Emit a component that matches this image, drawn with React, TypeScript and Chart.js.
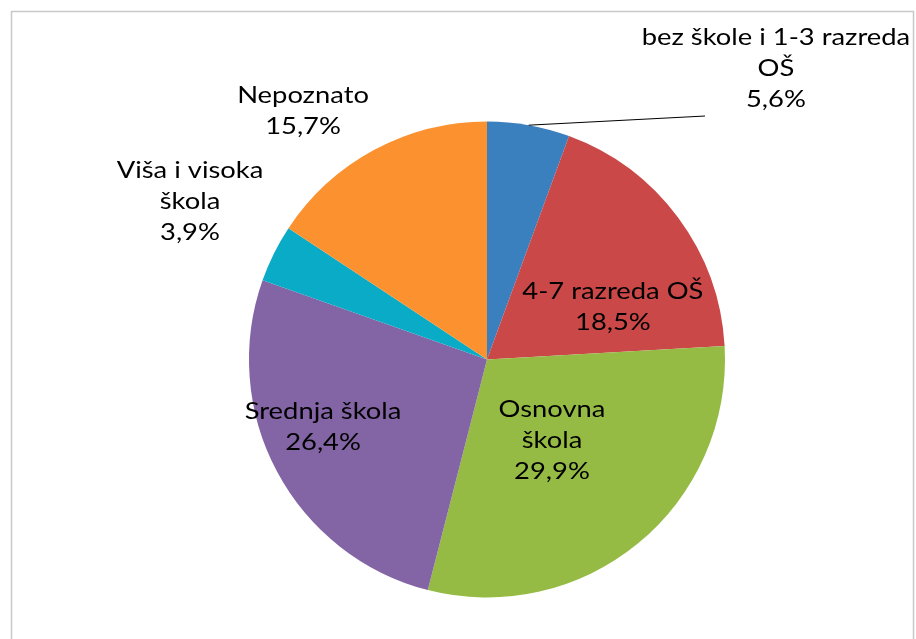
import React, { useEffect, useRef } from "react";
import { Chart, registerables } from "chart.js";

Chart.register(...registerables);

const categories = [
  "bez škole i 1-3 razreda OŠ",
  "4-7 razreda OŠ",
  "Osnovna škola",
  "Srednja škola",
  "Viša i visoka škola",
  "Nepoznato",
];
const values = [5.6, 18.5, 29.9, 26.4, 3.9, 15.7];
const labelLines = [
  ["bez škole i 1-3 razreda", "OŠ", "5,6%"],
  ["4-7 razreda OŠ", "18,5%"],
  ["Osnovna", "škola", "29,9%"],
  ["Srednja škola", "26,4%"],
  ["Viša i visoka", "škola", "3,9%"],
  ["Nepoznato", "15,7%"],
];
const colors = ["#3A7FBE", "#CB4849", "#95BB45", "#8364A4", "#0AABC6", "#FB922F"];

// label centres in units of pie radius, relative to pie centre
const labelPos: [number, number][] = [
  [1.214, -1.225],
  [0.529, -0.221],
  [0.273, 0.338],
  [-0.689, 0.284],
  [-1.248, -0.666],
  [-0.773, -1.044],
];
const leaderEnd: [number, number] = [0.916, -1.023];

const labelPlugin = {
  id: "labels",
  beforeDraw(chart: any) {
    const ctx = chart.ctx;
    ctx.save();
    ctx.strokeStyle = "#c8c8c8";
    ctx.lineWidth = 1.5;
    ctx.strokeRect(11.5, 11.5, 902, 660);
    ctx.restore();
  },
  afterDraw(chart: any) {
    const ctx = chart.ctx;
    const meta = chart.getDatasetMeta(0);
    const a0 = meta.data[0].getProps(["x", "y", "outerRadius", "startAngle", "endAngle"], true);
    const cx = a0.x, cy = a0.y, R = a0.outerRadius;
    ctx.save();
    const mid = (a0.startAngle + a0.endAngle) / 2;
    ctx.strokeStyle = "#000";
    ctx.lineWidth = 1;
    ctx.beginPath();
    ctx.moveTo(cx + R * Math.cos(mid), cy + R * Math.sin(mid));
    ctx.lineTo(cx + leaderEnd[0] * R, cy + leaderEnd[1] * R);
    ctx.stroke();

    ctx.fillStyle = "#000";
    ctx.font = "24px Lato";
    ctx.textAlign = "center";
    ctx.textBaseline = "middle";
    const lh = 31;
    labelLines.forEach((lines, i) => {
      const px = cx + labelPos[i][0] * R;
      const py = cy + labelPos[i][1] * R;
      const top = py - ((lines.length - 1) * lh) / 2;
      lines.forEach((t, j) => {
        ctx.save();
        ctx.translate(px, top + j * lh);
        ctx.scale(1.14, 1);
        ctx.fillText(t, 0, 0);
        ctx.restore();
      });
    });
    ctx.restore();
  },
};

export default function App() {
  const ref = useRef<HTMLCanvasElement>(null);
  useEffect(() => {
    const chart = new Chart(ref.current!, {
      type: "pie",
      data: {
        labels: categories,
        datasets: [
          {
            data: values,
            backgroundColor: colors,
            borderWidth: 0,
            hoverOffset: 0,
            offset: 0,
          },
        ],
      },
      options: {
        animation: false,
        responsive: false,
        layout: { padding: { left: 249, right: 191, top: 121.5, bottom: 41.5 } },
        plugins: { legend: { display: false }, tooltip: { enabled: false } },
      },
      plugins: [labelPlugin],
    });
    return () => chart.destroy();
  }, []);
  return (
    <div style={{ position: "fixed", left: 0, top: 0, width: 916, height: 639, background: "#fff" }}>
      <canvas ref={ref} width={916} height={639} style={{ display: "block" }} />
    </div>
  );
}
